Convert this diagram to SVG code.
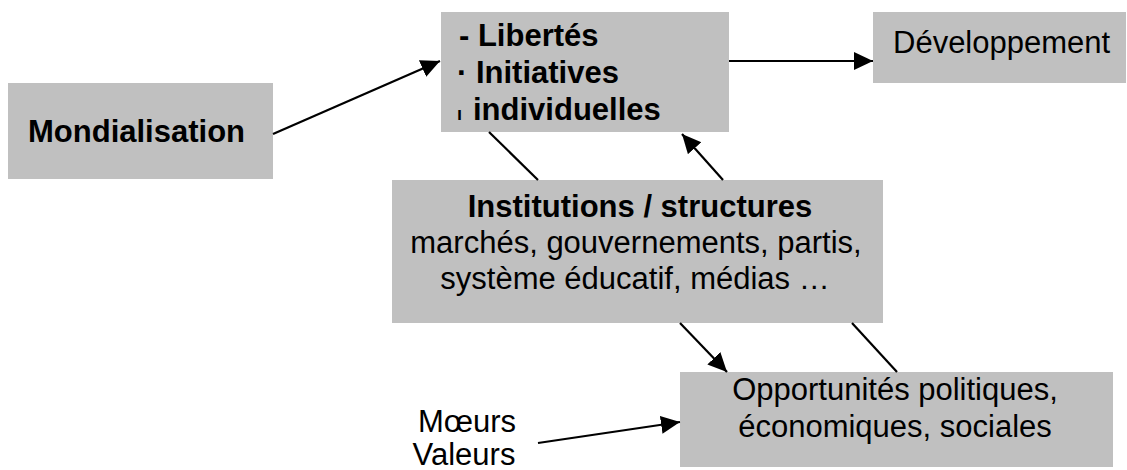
<svg xmlns="http://www.w3.org/2000/svg" width="1127" height="470" viewBox="0 0 1127 470">
<style>
.box{fill:#c0c0c0;stroke:none}
.t{font-family:"Liberation Sans",Arial,sans-serif;font-size:31px;fill:#000}
.b{font-weight:bold}
.c{text-anchor:middle}
.ln{stroke:#000;stroke-width:2.2;fill:none}
</style>
<defs>
<marker id="ah" markerUnits="userSpaceOnUse" markerWidth="22" markerHeight="20" refX="19" refY="9" orient="auto">
<path d="M0,0 L19,9 L0,18 Z" fill="#000"/>
</marker>
</defs>
<rect width="1127" height="470" fill="#fff"/>
<g id="mondialisation">
<rect class="box" x="8" y="83" width="265" height="96"/>
<text class="t b" x="28" y="142">Mondialisation</text>
</g>
<g id="libertes">
<rect class="box" x="441" y="12" width="288" height="120"/>
<text class="t b" x="459" y="46">- Libertés</text>
<text class="t b" x="457" y="83">· Initiatives</text>
<text class="t b" x="457" y="120"><tspan font-size="18">ı</tspan><tspan x="473">individuelles</tspan></text>
</g>
<g id="developpement">
<rect class="box" x="873" y="12" width="253" height="71"/>
<text class="t" x="893" y="53">Développement</text>
</g>
<g id="institutions">
<rect class="box" x="392" y="180" width="491" height="143"/>
<text class="t b c" x="640" y="217">Institutions / structures</text>
<text class="t c" x="636" y="253">marchés, gouvernements, partis,</text>
<text class="t c" x="635" y="289">système éducatif, médias …</text>
</g>
<g id="opportunites">
<rect class="box" x="680" y="372" width="433" height="95"/>
<text class="t c" x="895" y="400">Opportunités politiques,</text>
<text class="t c" x="895" y="437">économiques, sociales</text>
</g>
<g id="moeurs">
<text class="t c" x="467" y="432">Mœurs</text>
<text class="t c" x="464" y="465">Valeurs</text>
</g>
<g id="connectors">
<line class="ln" x1="273" y1="134" x2="440" y2="61" marker-end="url(#ah)"/>
<line class="ln" x1="729" y1="61" x2="873" y2="61" marker-end="url(#ah)"/>
<line class="ln" x1="489" y1="132" x2="538" y2="180"/>
<line class="ln" x1="723" y1="180" x2="682" y2="134" marker-end="url(#ah)"/>
<line class="ln" x1="680" y1="323" x2="727" y2="372" marker-end="url(#ah)"/>
<line class="ln" x1="852" y1="323" x2="897" y2="372"/>
<line class="ln" x1="538" y1="443" x2="680" y2="422" marker-end="url(#ah)"/>
</g>
</svg>
